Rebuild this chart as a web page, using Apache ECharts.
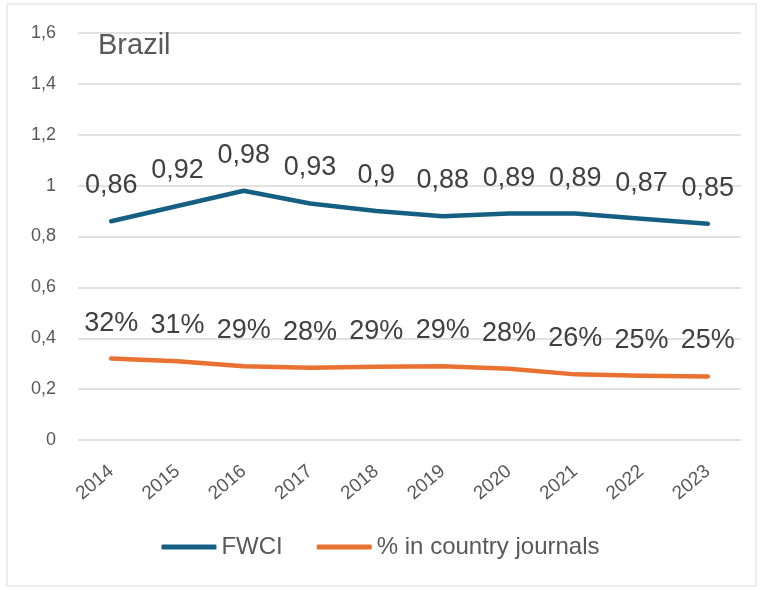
<!DOCTYPE html>
<html>
<head>
<meta charset="utf-8">
<script src="https://cdn.jsdelivr.net/npm/echarts@6/dist/echarts.min.js"></script>
<style>
  html,body{margin:0;padding:0;background:#fff;}
  #chart{width:761px;height:590px;}
</style>
</head>
<body>
<div id="chart"></div>
<script>
// Brazil - FWCI vs share in country journals
var years = ['2014','2015','2016','2017','2018','2019','2020','2021','2022','2023']
var fwci = [0.86,0.92,0.98,0.93,0.90,0.88,0.89,0.89,0.87,0.85]
var countryShare = [0.32,0.31,0.29,0.284,0.288,0.29,0.28,0.258,0.253,0.25]

var textGray = '#595959'
var labelGray = '#404040'
var blue = '#156082'
var orange = '#E97132'

var myChart = echarts.init(document.getElementById('chart'))
var option = {
  animation: false,
  backgroundColor: '#fff',
  graphic: [{
    type: 'rect',
    shape: {x: 7, y: 4, width: 749, height: 582},
    style: {fill: 'none', stroke: '#d9d9d9', lineWidth: 1},
    silent: true
  }],
  title: {
    text: 'Brazil',
    left: 93,
    top: 26,
    textStyle: {
      color: textGray,
      fontSize: 29,
      fontWeight: 'normal',
      fontFamily: 'Liberation Sans'
    }
  },
  legend: {
    bottom: 26,
    left: 'center',
    itemWidth: 55,
    itemHeight: 5,
    itemGap: 34,
    icon: 'roundRect',
    textStyle: {color: textGray, fontSize: 24, fontFamily: 'Liberation Sans'},
    data: [
      {name: 'FWCI', itemStyle: {color: blue, opacity: 1}},
      {name: '% in country journals', itemStyle: {color: orange, opacity: 1}}
    ]
  },
  grid: {
    left: 78,
    right: 20,
    top: 33,
    bottom: 150
  },
  xAxis: {
    type: 'category',
    data: years,
    boundaryGap: true,
    axisLine: {show: false},
    axisTick: {show: false},
    axisLabel: {
      rotate: 40,
      color: textGray,
      fontSize: 19,
      margin: 29,
      fontFamily: 'Liberation Sans'
    }
  },
  yAxis: {
    type: 'value',
    min: 0,
    max: 1.6,
    interval: 0.2,
    axisLine: {show: false},
    axisTick: {show: false},
    splitLine: {lineStyle: {color: '#d9d9d9', width: 1.5}},
    axisLabel: {
      color: textGray,
      fontSize: 18,
      margin: 22,
      fontFamily: 'Liberation Sans',
      formatter: function (v) {
        return String(Math.round(v * 10) / 10).replace('.', ',')
      }
    }
  },
  series: [{
    name: 'FWCI',
    type: 'line',
    data: fwci,
    symbol: 'circle',
    symbolSize: 2,
    showSymbol: true,
    color: blue,
    itemStyle: {color: blue, borderWidth: 0},
    lineStyle: {width: 4.5, color: blue, cap: 'round', join: 'round'},
    label: {
      show: true,
      position: 'top',
      distance: 21,
      color: labelGray,
      fontSize: 27,
      fontFamily: 'Liberation Sans',
      formatter: function (p) { return String(p.value).replace('.', ',') }
    },
    labelLayout: {hideOverlap: false}
  }, {
    name: '% in country journals',
    type: 'line',
    data: countryShare,
    symbol: 'circle',
    symbolSize: 2,
    showSymbol: true,
    color: orange,
    itemStyle: {color: orange, borderWidth: 0},
    lineStyle: {width: 4.5, color: orange, cap: 'round', join: 'round'},
    label: {
      show: true,
      position: 'top',
      distance: 21,
      color: labelGray,
      fontSize: 27,
      fontFamily: 'Liberation Sans',
      formatter: function (p) { return Math.round(p.value * 100) + '%' }
    },
    labelLayout: {hideOverlap: false}
  }]
}
myChart.setOption(option)
</script>
</body>
</html>
